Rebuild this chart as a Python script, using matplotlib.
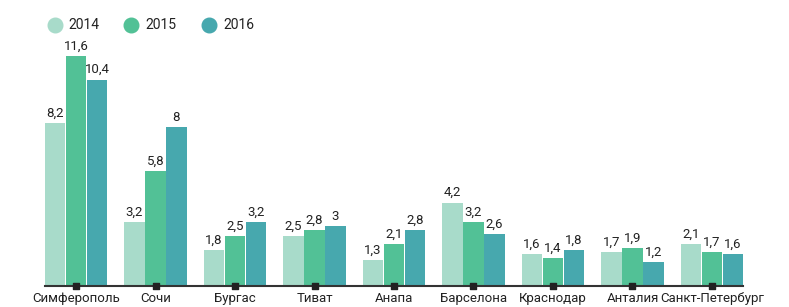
import numpy as np
import matplotlib.pyplot as plt

# -----------------------------
# Data
# -----------------------------
cities = ["Симферополь", "Сочи", "Бургас", "Тиват", "Анапа",
          "Барселона", "Краснодар", "Анталия", "Санкт-Петербург"]
years = ["2014", "2015", "2016"]
v2014 = [8.2, 3.2, 1.8, 2.5, 1.3, 4.2, 1.6, 1.7, 2.1]
v2015 = [11.6, 5.8, 2.5, 2.8, 2.1, 3.2, 1.4, 1.9, 1.7]
v2016 = [10.4, 8.0, 3.2, 3.0, 2.8, 2.6, 1.8, 1.2, 1.6]
colors = ["#a8dbca", "#52c196", "#47a8ae"]

plt.rcParams["font.family"] = ["Roboto", "DejaVu Sans"]

W, H, DPI = 789, 307, 100
fig = plt.figure(figsize=(W / DPI, H / DPI), dpi=DPI)
ax = fig.add_axes([45 / W, 21 / H, (743 - 45) / W, 258 / H])

x = np.arange(len(cities))
width = 0.252
step = 0.264

for k, (vals, col) in enumerate(zip([v2014, v2015, v2016], colors)):
    pos = x + (k - 1) * step
    ax.bar(pos, vals, width=width, color=col, zorder=2)
    for px, v in zip(pos, vals):
        label = f"{v:g}".replace(".", ",")
        ax.annotate(label, (px, v), xytext=(0, 2.5), textcoords="offset points",
                    ha="center", va="bottom", fontsize=9.5, color="#222222")

ax.set_xlim(-0.39, 8.39)
ax.set_ylim(0, 13)

for side in ["top", "right", "left"]:
    ax.spines[side].set_visible(False)
ax.spines["bottom"].set_color("#333333")
ax.spines["bottom"].set_linewidth(1.5)
ax.set_yticks([])
ax.set_xticks(x)
ax.set_xticklabels(cities, fontsize=9.5, color="#222222")
ax.tick_params(axis="x", length=0, pad=4)

# square markers on the axis line
ax.scatter(x, np.zeros(len(x)), marker="s", s=24, color="#222222",
           zorder=4, clip_on=False)

# -----------------------------
# Legend
# -----------------------------
leg_x = [54.5, 131, 209]
for lx, yr, col in zip(leg_x, years, colors):
    fig.add_artist(plt.Line2D([lx / W], [1 - 25 / H], marker="o",
                              markersize=10.5, color=col, linestyle="none",
                              transform=fig.transFigure))
    fig.text((lx + 14) / W, 1 - 25 / H, yr, fontsize=10,
             va="center", ha="left", color="#222222")

fig.savefig("out.png", dpi=DPI)
